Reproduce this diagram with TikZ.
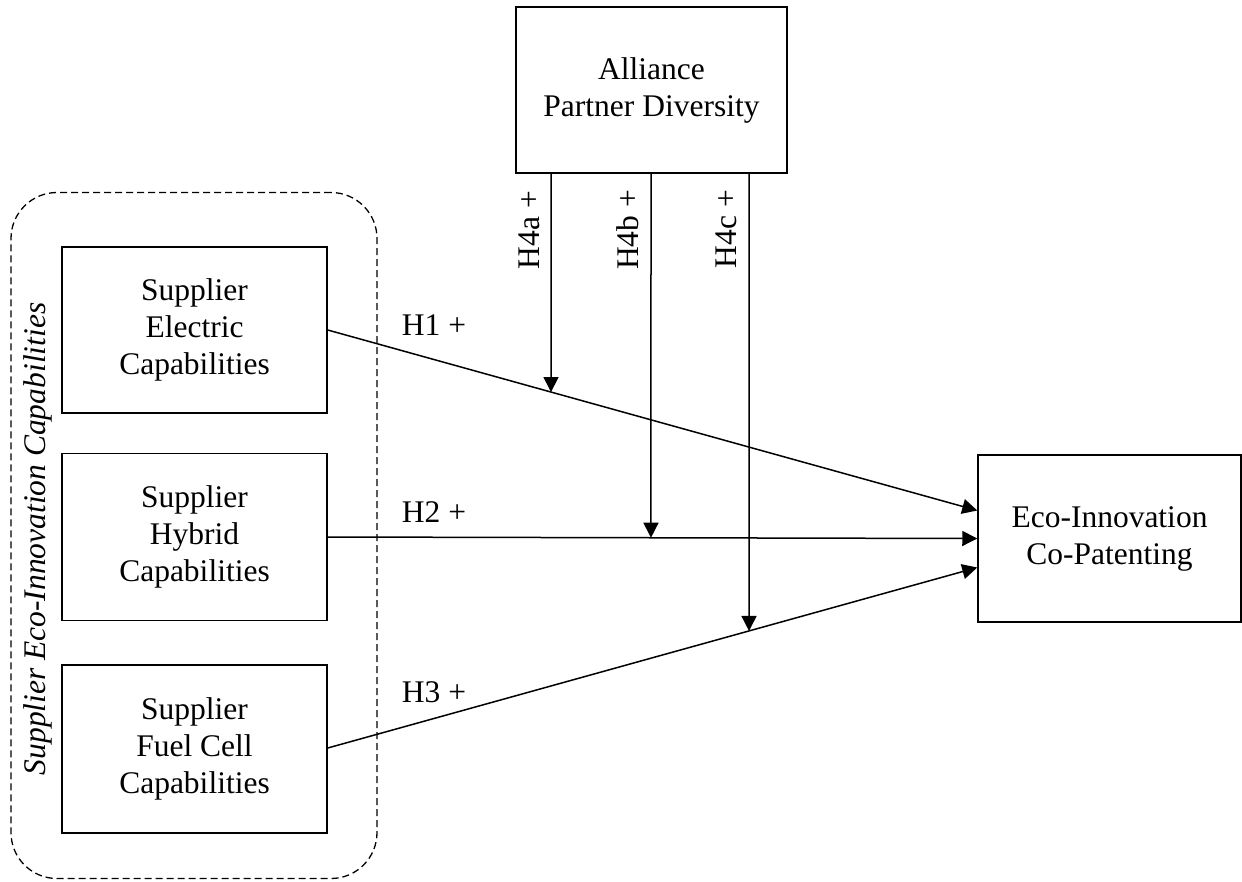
\documentclass[tikz,border=0pt]{standalone}
\usepackage{fontspec}
\setmainfont{Liberation Serif}
\usetikzlibrary{arrows.meta,calc}
\begin{document}
\begin{tikzpicture}[x=1pt,y=-1pt,
  txt/.style={font=\fontsize{31.5}{37}\selectfont},
  box/.style={txt,draw,line width=1.5pt,minimum width=265pt,minimum height=166pt,align=center,inner sep=0pt},
  conn/.style={line width=1.5pt,-{Triangle[length=15pt,width=15pt]}},
  lbl/.style={txt,inner sep=0pt}]
\useasboundingbox (0,0) rectangle (1242,881);
% group
\node[draw,dashed,dash pattern=on 7pt off 4pt,line width=1.3pt,rounded corners=46pt,minimum width=366pt,minimum height=686pt,inner sep=0pt] (grp) at (194,535.5) {};
\node[lbl,rotate=90,font=\fontsize{31.5}{37}\selectfont\itshape] (grplbl) at (38,539) {Supplier Eco-Innovation Capabilities};
% boxes
\node[box] (ele) at (194.5,330) {Supplier\\Electric\\Capabilities};
\node[box,minimum height=167pt] (hyb) at (194.5,537) {Supplier\\Hybrid\\Capabilities};
\node[box,minimum height=168pt] (fue) at (194.5,749) {Supplier\\Fuel Cell\\Capabilities};
\node[box,minimum width=271pt] (all) at (651.5,90) {Alliance\\Partner Diversity};
\node[box,minimum width=263pt,minimum height=167pt] (eco) at (1109.5,538.5) {Eco-Innovation\\Co-Patenting};
% end points
\coordinate (e1) at ($(eco.west)+(0,-28)$);
\coordinate (e3) at ($(eco.west)+(0,29)$);
\coordinate (s3) at ($(fue.east)+(0,-1)$);
\coordinate (ta) at (551,173);
\coordinate (tb) at (651,173);
\coordinate (tc) at (749,173);
% main arrows
\draw[conn] (ele.east) -- (e1);
\draw[conn] (hyb.east) -- (eco.west);
\draw[conn] (s3) -- (e3);
% moderating arrows
\coordinate (ma) at (intersection cs: first line={(ele.east)--(e1)}, second line={(ta)--(551,800)});
\coordinate (mb) at (intersection cs: first line={(hyb.east)--(eco.west)}, second line={(tb)--(651,800)});
\coordinate (mc) at (intersection cs: first line={(s3)--(e3)}, second line={(tc)--(749,800)});
\draw[conn] (ta) -- (ma);
\draw[conn] (tb) -- (mb);
\draw[conn] (tc) -- (mc);
% labels
\node[lbl,anchor=base] (h1) at (434,335) {H1 +};
\node[lbl,anchor=base] (h2) at (434,522) {H2 +};
\node[lbl,anchor=base] (h3) at (434,702) {H3 +};
\node[lbl,rotate=90] (h4a) at (529,230) {H4a +};
\node[lbl,rotate=90] (h4b) at (628,230) {H4b +};
\node[lbl,rotate=90] (h4c) at (726,229) {H4c +};
\end{tikzpicture}
\end{document}
